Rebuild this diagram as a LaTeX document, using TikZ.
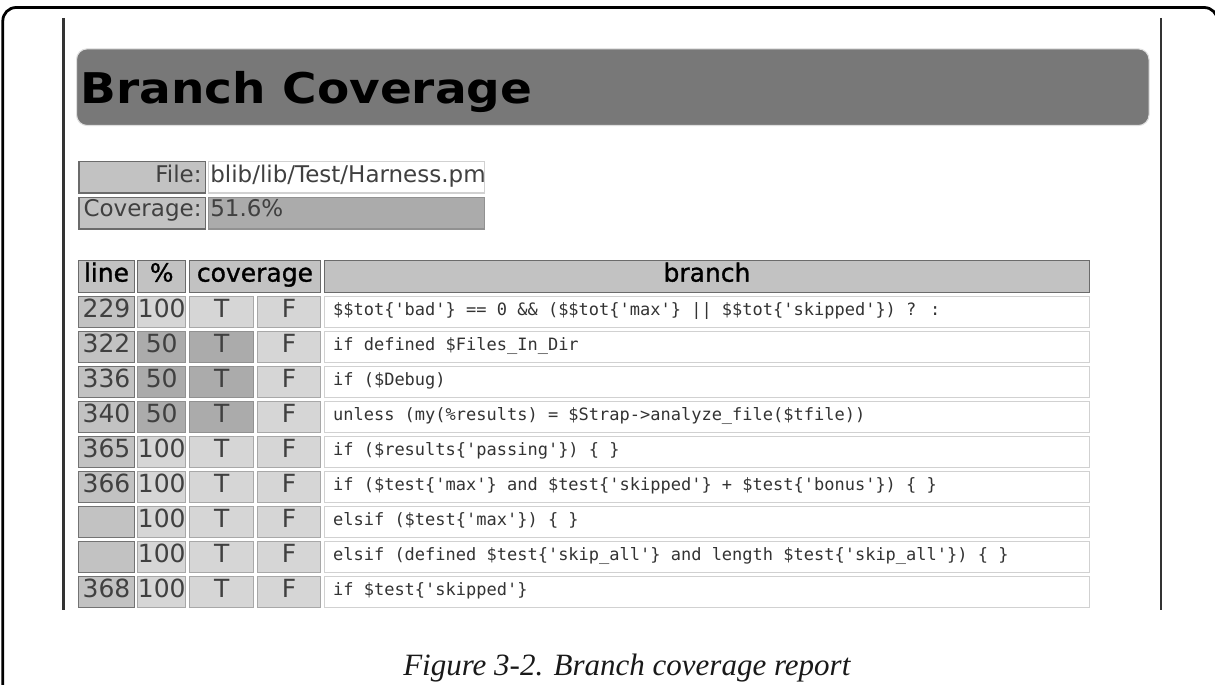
\documentclass[tikz,border=0pt]{standalone}
\usepackage{fontspec}
\newfontfamily\uisans{DejaVu Sans}
\newfontfamily\uisanshead{DejaVu Sans}[FakeBold=1.2]
\newfontfamily\uimono{DejaVu Sans Mono}[Ligatures=TeXOff]
\newfontfamily\capserif{Liberation Serif}
% font size given in pixels (1px = 0.75pt)
\newcommand\pxsize[1]{\fontsize{\fpeval{#1*0.75}pt}{\fpeval{#1*0.9}pt}\selectfont}

\definecolor{bannerfill}{gray}{0.47}
\definecolor{hdrfill}{gray}{0.76}
\definecolor{hdredge}{gray}{0.42}
\definecolor{linefill}{gray}{0.76}
\definecolor{lineedge}{gray}{0.45}
\definecolor{fullfill}{gray}{0.84}
\definecolor{fulledge}{gray}{0.66}
\definecolor{halffill}{gray}{0.67}
\definecolor{halfedge}{gray}{0.57}
\definecolor{codeedge}{gray}{0.82}
\definecolor{numtext}{gray}{0.25}
\definecolor{codetext}{gray}{0.2}
\definecolor{framegray}{gray}{0.2}

\tikzset{
  basecell/.style={rectangle, inner sep=0pt, line width=1.1pt, text depth=0pt, text height=0.73em},
  hdrcell/.style={basecell, fill=hdrfill, draw=hdredge, text=black, font=\uisanshead\pxsize{25}},
  linecell/.style={basecell, fill=linefill, draw=lineedge, text=numtext, font=\uisans\pxsize{25}},
  fullcell/.style={basecell, fill=fullfill, draw=fulledge, text=numtext, font=\uisans\pxsize{25}},
  halfcell/.style={basecell, fill=halffill, draw=halfedge, text=numtext, font=\uisans\pxsize{25}},
  codecell/.style={basecell, fill=white, draw=codeedge},
  codetextstyle/.style={inner sep=0pt, text depth=0pt, text height=0.73em, text=codetext, font=\uimono\pxsize{17}},
  filelabel/.style={basecell, fill=hdrfill, draw=hdredge, text=numtext, font=\uisans\pxsize{23}},
  filevalue/.style={basecell, fill=white, draw=codeedge},
  covvalue/.style={basecell, fill=halffill, draw=halfedge},
  plaintext/.style={inner sep=0pt, text depth=0pt, text height=0.73em, text=numtext, font=\uisans\pxsize{23}},
}

% cell spanning (x1,y1)--(x2,y2) in pixel coordinates
\newcommand\pxcell[7]{%
  \node[#1, anchor=north west,
        minimum width={((#5)-(#3))*0.75pt},
        minimum height={((#6)-(#4))*0.75pt}] (#2) at (#3,#4) {#7};}

% one report row: index, top, line, percent, tone, code
\newcommand\covrow[6]{%
  \pxcell{linecell}{l#1}{78}{#2}{133.5}{#2+31}{#3}
  \pxcell{#5cell}{p#1}{137}{#2}{185}{#2+31}{#4}
  \pxcell{#5cell}{t#1}{189}{#2}{253}{#2+31}{T}
  \pxcell{fullcell}{f#1}{257}{#2}{319.5}{#2+31}{F}
  \pxcell{codecell}{b#1}{323.5}{#2}{1089}{#2+31}{}
  \node[codetextstyle, anchor=west] (c#1) at ([xshift=7pt,yshift=1.5pt]b#1.west) {#6};}

\begin{document}
\begin{tikzpicture}[x=0.75pt,y=-0.75pt]
\useasboundingbox (0,0) rectangle (1215,685);
\clip (0,0) rectangle (1215,685);

% page frame
\draw[black, line width=2.1pt, rounded corners=10pt] (2.8,7.5) rectangle (1217.5,760);

% browser window edges
\draw[framegray, line width=2pt] (63.3,18) -- (63.3,610);
\draw[framegray, line width=2pt] (1161,18) -- (1161,610);

% heading banner
\node[rectangle, anchor=north west, fill=bannerfill, draw=gray!25, line width=0.8pt,
      rounded corners=8pt, minimum width={(1148.5-76)*0.75pt},
      minimum height={(125-48.3)*0.75pt}] (banner) at (76,48.3) {};
\node[anchor=base west, inner sep=0pt, font=\uisans\bfseries\pxsize{47}, yscale=0.9]
      (title) at (80.5,103.5) {Branch Coverage};

% file summary
\pxcell{filelabel}{flab}{78.3}{161}{205}{192.3}{}
\pxcell{filevalue}{fval}{208}{161}{484}{192.3}{}
\pxcell{filelabel}{clab}{78.3}{196.7}{205}{228.3}{}
\pxcell{covvalue}{cval}{208}{196.7}{484}{228.3}{}
\node[plaintext, anchor=east] (flabtext) at ([xshift=-3.5pt]flab.east) {File:};
\node[plaintext, anchor=west] (fvaltext) at ([xshift=1.5pt]fval.west) {blib/lib/Test/Harness.pm};
\node[plaintext, anchor=east] (clabtext) at ([xshift=-3.5pt,yshift=1pt]clab.east) {Coverage:};
\node[plaintext, anchor=west] (cvaltext) at ([xshift=1.5pt,yshift=1pt]cval.west) {51.6\%};

% report header
\pxcell{hdrcell}{hline}{78}{260}{133.5}{292}{line}
\pxcell{hdrcell}{hpct}{137}{260}{185}{292}{\%}
\pxcell{hdrcell}{hcov}{188.5}{260}{320}{292}{coverage}
\pxcell{hdrcell}{hbranch}{323.5}{260}{1089}{292}{branch}

% report rows
\covrow{1}{296}{229}{100}{full}{\$\$tot\{'bad'\} == 0 \&\& (\$\$tot\{'max'\} || \$\$tot\{'skipped'\}) ? :}
\covrow{2}{331}{322}{50}{half}{if defined \$Files\_In\_Dir}
\covrow{3}{366}{336}{50}{half}{if (\$Debug)}
\covrow{4}{401}{340}{50}{half}{unless (my(\%results) = \$Strap->analyze\_file(\$tfile))}
\covrow{5}{436}{365}{100}{full}{if (\$results\{'passing'\}) \{ \}}
\covrow{6}{471}{366}{100}{full}{if (\$test\{'max'\} and \$test\{'skipped'\} + \$test\{'bonus'\}) \{ \}}
\covrow{7}{506}{}{100}{full}{elsif (\$test\{'max'\}) \{ \}}
\covrow{8}{541}{}{100}{full}{elsif (defined \$test\{'skip\_all'\} and length \$test\{'skip\_all'\}) \{ \}}
\covrow{9}{576}{368}{100}{full}{if \$test\{'skipped'\}}

% caption
\node[anchor=base west, inner sep=0pt, text=black!90, font=\capserif\itshape\pxsize{31}]
      (caption) at (403,675) {Figure 3-2. Branch coverage report};
\end{tikzpicture}
\end{document}
